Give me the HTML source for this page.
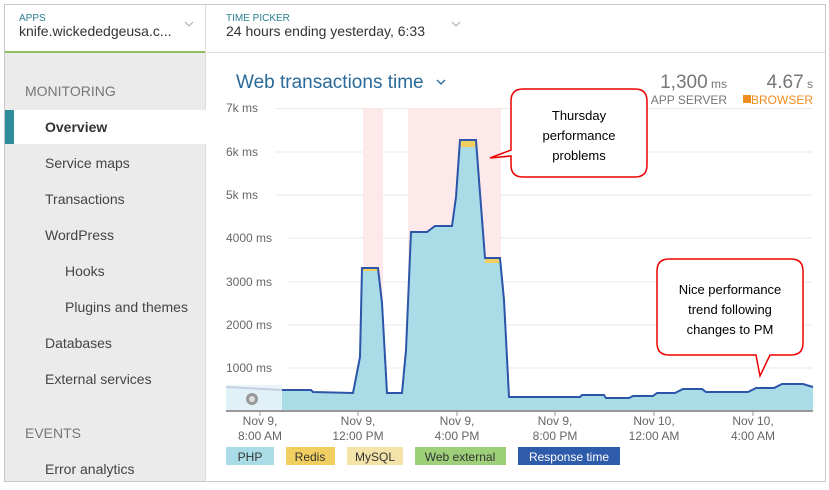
<!DOCTYPE html>
<html><head><meta charset="utf-8"><style>
body{margin:0;width:829px;height:485px;background:#fff;overflow:hidden;font-family:"Liberation Sans",sans-serif;}
</style></head><body>
<svg width="829" height="485" xmlns="http://www.w3.org/2000/svg" font-family="Liberation Sans, sans-serif">
<rect x="0" y="0" width="829" height="485" fill="#fff"/>
<rect x="4.5" y="4.5" width="821" height="477" fill="#fff" stroke="#c8c8c8"/>
<!-- header -->
<line x1="5" y1="52.5" x2="825" y2="52.5" stroke="#ddd"/>
<line x1="5" y1="52" x2="205" y2="52" stroke="#8fbf60" stroke-width="2"/>
<line x1="205.5" y1="5" x2="205.5" y2="52" stroke="#ddd"/>
<text x="19" y="21" font-size="10" fill="#2a7f8f">APPS</text>
<text x="19" y="36" font-size="14" fill="#333">knife.wickededgeusa.c...</text>
<path d="M185 22 l4 4 l4 -4" fill="none" stroke="#aaa"/>
<text x="226" y="21" font-size="10" fill="#2a7f8f">TIME PICKER</text>
<text x="226" y="36" font-size="14" fill="#333">24 hours ending yesterday, 6:33</text>
<path d="M452 22 l4 4 l4 -4" fill="none" stroke="#aaa"/>
<!-- sidebar -->
<rect x="5" y="53" width="200" height="428" fill="#ebebeb"/>
<line x1="205.5" y1="53" x2="205.5" y2="481" stroke="#ddd"/>
<rect x="5" y="110" width="201" height="34" fill="#fff"/>
<rect x="5" y="110" width="9" height="34" fill="#2f8a9a"/>
<g font-size="14" fill="#444">
<text x="25" y="96" fill="#777">MONITORING</text>
<text x="45" y="132" font-weight="bold" fill="#333">Overview</text>
<text x="45" y="168">Service maps</text>
<text x="45" y="204">Transactions</text>
<text x="45" y="240">WordPress</text>
<text x="65" y="276">Hooks</text>
<text x="65" y="312">Plugins and themes</text>
<text x="45" y="348">Databases</text>
<text x="45" y="384">External services</text>
<text x="25" y="438" fill="#777">EVENTS</text>
<text x="45" y="474">Error analytics</text>
</g>
<!-- title -->
<text x="236" y="88" font-size="19" fill="#2a6a9a">Web transactions time</text>
<path d="M437 80 l4 4 l4 -4" fill="none" stroke="#2a6a9a" stroke-width="1.3"/>
<text x="727" y="88" font-size="19" fill="#777" text-anchor="end">1,300<tspan font-size="12"> ms</tspan></text>
<text x="727" y="104" font-size="12" fill="#777" text-anchor="end">APP SERVER</text>
<text x="813" y="88" font-size="19" fill="#777" text-anchor="end">4.67<tspan font-size="12"> s</tspan></text>
<rect x="743" y="95" width="8" height="8" fill="#f08c20"/>
<text x="813" y="104" font-size="12" fill="#f08c20" text-anchor="end">BROWSER</text>
<!-- grid -->
<g stroke="#e8e8e8">
<line x1="275" y1="108.5" x2="812" y2="108.5"/>
<line x1="275" y1="152" x2="812" y2="152"/>
<line x1="275" y1="195" x2="812" y2="195"/>
<line x1="288" y1="238" x2="812" y2="238"/>
<line x1="288" y1="282" x2="812" y2="282"/>
<line x1="288" y1="325" x2="812" y2="325"/>
<line x1="288" y1="368" x2="812" y2="368"/>
</g>
<g font-size="12" fill="#666">
<text x="226" y="112">7k ms</text>
<text x="226" y="156">6k ms</text>
<text x="226" y="199">5k ms</text>
<text x="226" y="242">4000 ms</text>
<text x="226" y="286">3000 ms</text>
<text x="226" y="329">2000 ms</text>
<text x="226" y="372">1000 ms</text>
</g>
<rect x="363" y="108" width="20" height="303" fill="#fde8ea"/>
<rect x="408" y="108" width="93" height="303" fill="#fde8ea"/>
<!-- area -->
<path d="M226 387 L282 390 L311 390 L313 392 L353 393 L360 357 L362 268 L378 268 L382 303 L387 393 L402 393 L406 350 L411 232 L427 232 L435 226 L452 226 L456 197 L460 140 L476 140 L479 180 L485 258 L500 258 L504 300 L509 397 L580 397 L582 395 L604 395 L606 398 L629 398 L633 396 L653 396 L657 393 L675 393 L683 389 L702 389 L706 392 L748 392 L756 388 L774 388 L782 384 L803 384 L813 387 L813 411 L226 411 Z" fill="#a9dce7"/>
<path d="M460 140 L476 140 L477 147 L461 147 Z M362 268 L378 268 L378 271 L362 271 Z M485 258 L500 258 L500 263 L485 263 Z" fill="#f0cf60"/>
<rect x="226" y="385" width="56" height="26" fill="#e6f4f8" opacity="0.9"/>
<path d="M282 390 L311 390 L313 392 L353 393 L360 357 L362 268 L378 268 L382 303 L387 393 L402 393 L406 350 L411 232 L427 232 L435 226 L452 226 L456 197 L460 140 L476 140 L479 180 L485 258 L500 258 L504 300 L509 397 L580 397 L582 395 L604 395 L606 398 L629 398 L633 396 L653 396 L657 393 L675 393 L683 389 L702 389 L706 392 L748 392 L756 388 L774 388 L782 384 L803 384 L813 387" fill="none" stroke="#2a55a8" stroke-width="2"/>
<path d="M226 387 L282 390" fill="none" stroke="#c5cde0" stroke-width="2"/>
<circle cx="252" cy="399" r="6" fill="#999"/><circle cx="252" cy="399" r="3" fill="#ddd"/>
<line x1="226" y1="411" x2="813" y2="411" stroke="#999" stroke-width="2"/>
<g stroke="#999"><line x1="260" y1="412" x2="260" y2="416"/><line x1="358" y1="412" x2="358" y2="416"/><line x1="457" y1="412" x2="457" y2="416"/><line x1="555" y1="412" x2="555" y2="416"/><line x1="654" y1="412" x2="654" y2="416"/><line x1="753" y1="412" x2="753" y2="416"/></g>
<g font-size="12" fill="#666" text-anchor="middle">
<text x="260" y="425">Nov 9,</text><text x="260" y="440">8:00 AM</text>
<text x="358" y="425">Nov 9,</text><text x="358" y="440">12:00 PM</text>
<text x="457" y="425">Nov 9,</text><text x="457" y="440">4:00 PM</text>
<text x="555" y="425">Nov 9,</text><text x="555" y="440">8:00 PM</text>
<text x="654" y="425">Nov 10,</text><text x="654" y="440">12:00 AM</text>
<text x="753" y="425">Nov 10,</text><text x="753" y="440">4:00 AM</text>
</g>
<!-- legend -->
<g font-size="12" text-anchor="middle">
<rect x="226" y="447" width="48" height="18" fill="#a9dce7"/><text x="250" y="461" fill="#333">PHP</text>
<rect x="286" y="447" width="49" height="18" fill="#f0cf60"/><text x="310" y="461" fill="#333">Redis</text>
<rect x="347" y="447" width="56" height="18" fill="#f5e4aa"/><text x="375" y="461" fill="#333">MySQL</text>
<rect x="415" y="447" width="91" height="18" fill="#9dd079"/><text x="460" y="461" fill="#333">Web external</text>
<rect x="518" y="447" width="102" height="18" fill="#2f5bab"/><text x="569" y="461" fill="#fff">Response time</text>
</g>
<!-- callouts -->
<path d="M523 89 H635 Q647 89 647 101 V165 Q647 177 635 177 H523 Q511 177 511 165 V156 L490 158 L511 150 V101 Q511 89 523 89 Z" fill="#fff" stroke="#e00" stroke-width="1.5"/>
<g font-size="13" fill="#000" text-anchor="middle"><text x="579" y="120">Thursday</text><text x="579" y="140">performance</text><text x="579" y="160">problems</text></g>
<path d="M669 259 H791 Q803 259 803 271 V343 Q803 355 791 355 H770 L760 376 L756 355 H669 Q657 355 657 343 V271 Q657 259 669 259 Z" fill="#fff" stroke="#e00" stroke-width="1.5"/>
<g font-size="13" fill="#000" text-anchor="middle"><text x="730" y="294">Nice performance</text><text x="730" y="314">trend following</text><text x="730" y="334">changes to PM</text></g>
</svg>
</body></html>
